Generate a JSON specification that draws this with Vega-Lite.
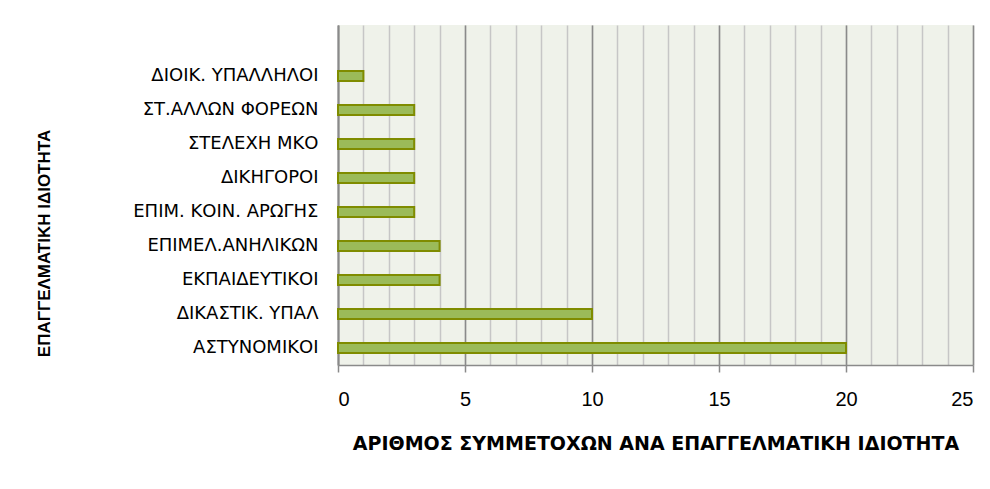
{
  "$schema": "https://vega.github.io/schema/vega-lite/v6.json",
  "autosize": {"type": "none"},
  "width": 635,
  "height": 340,
  "padding": {"left": 338, "top": 25, "right": 17, "bottom": 124},
  "background": "white",
  "config": {
    "view": {"fill": "#eff2ea", "stroke": null},
    "font": "Liberation Sans"
  },
  "data": {
    "values": [
      {"idiotita": "ΔΙΟΙΚ. ΥΠΑΛΛΗΛΟΙ", "plithos": 1},
      {"idiotita": "ΣΤ.ΑΛΛΩΝ ΦΟΡΕΩΝ", "plithos": 3},
      {"idiotita": "ΣΤΕΛΕΧΗ ΜΚΟ", "plithos": 3},
      {"idiotita": "ΔΙΚΗΓΟΡΟΙ", "plithos": 3},
      {"idiotita": "ΕΠΙΜ. ΚΟΙΝ. ΑΡΩΓΗΣ", "plithos": 3},
      {"idiotita": "ΕΠΙΜΕΛ.ΑΝΗΛΙΚΩΝ", "plithos": 4},
      {"idiotita": "ΕΚΠΑΙΔΕΥΤΙΚΟΙ", "plithos": 4},
      {"idiotita": "ΔΙΚΑΣΤΙΚ. ΥΠΑΛ", "plithos": 10},
      {"idiotita": "ΑΣΤΥΝΟΜΙΚΟΙ", "plithos": 20}
    ]
  },
  "resolve": {"axis": {"x": "independent"}},
  "layer": [
    {
      "mark": {"type": "bar", "opacity": 0},
      "encoding": {
        "x": {
          "field": "plithos", "type": "quantitative",
          "scale": {"domain": [0, 25], "nice": false},
          "axis": {
            "orient": "top", "values": [0,1,2,3,4,5,6,7,8,9,10,11,12,13,14,15,16,17,18,19,20,21,22,23,24,25],
            "labels": false, "ticks": false, "domain": false, "title": null,
            "grid": true, "gridColor": "#c6c6c6", "gridWidth": 1.5
          }
        },
        "y": {"field": "idiotita", "type": "nominal", "sort": null}
      }
    },
    {
      "mark": {"type": "bar", "fill": "#9bbb59", "stroke": "#7f8c00", "strokeWidth": 2},
      "encoding": {
        "x": {
          "field": "plithos", "type": "quantitative",
          "scale": {"domain": [0, 25], "nice": false},
          "axis": {
            "values": [0, 5, 10, 15, 20, 25],
            "grid": true, "gridColor": "#8a8a8a", "gridWidth": 1.5,
            "domain": true, "domainColor": "#8a8a8a", "domainWidth": 1.5,
            "ticks": true, "tickColor": "#8a8a8a", "tickSize": 7, "tickWidth": 1.5,
            "labelFontSize": 20, "labelColor": "#000000", "labelPadding": 17,
            "labelFont": "Liberation Sans",
            "title": "ΑΡΙΘΜΟΣ ΣΥΜΜΕΤΟΧΩΝ ΑΝΑ ΕΠΑΓΓΕΛΜΑΤΙΚΗ ΙΔΙΟΤΗΤΑ",
            "titleFont": "DejaVu Sans", "titleFontSize": 19, "titleFontWeight": "bold",
            "titleColor": "#000000", "titlePadding": 25, "titleLimit": 700
          }
        },
        "y": {
          "field": "idiotita", "type": "nominal",
          "scale": {
            "domain": ["", "ΔΙΟΙΚ. ΥΠΑΛΛΗΛΟΙ", "ΣΤ.ΑΛΛΩΝ ΦΟΡΕΩΝ", "ΣΤΕΛΕΧΗ ΜΚΟ", "ΔΙΚΗΓΟΡΟΙ", "ΕΠΙΜ. ΚΟΙΝ. ΑΡΩΓΗΣ", "ΕΠΙΜΕΛ.ΑΝΗΛΙΚΩΝ", "ΕΚΠΑΙΔΕΥΤΙΚΟΙ", "ΔΙΚΑΣΤΙΚ. ΥΠΑΛ", "ΑΣΤΥΝΟΜΙΚΟΙ"],
            "paddingInner": 0.7, "paddingOuter": 0.35
          },
          "axis": {
            "grid": false, "ticks": false,
            "domain": true, "domainColor": "#8a8a8a", "domainWidth": 2,
            "labelFont": "DejaVu Sans", "labelFontSize": 18, "labelColor": "#000000", "labelPadding": 20,
            "labelLimit": 320,
            "title": "ΕΠΑΓΓΕΛΜΑΤΙΚΗ ΙΔΙΟΤΗΤΑ",
            "titleFont": "Liberation Sans", "titleFontSize": 17, "titleFontWeight": "bold", "titleColor": "#000000",
            "titleX": -294, "titleY": 218, "titleAngle": -90, "titleBaseline": "middle", "titleAlign": "center"
          }
        }
      }
    }
  ]
}
